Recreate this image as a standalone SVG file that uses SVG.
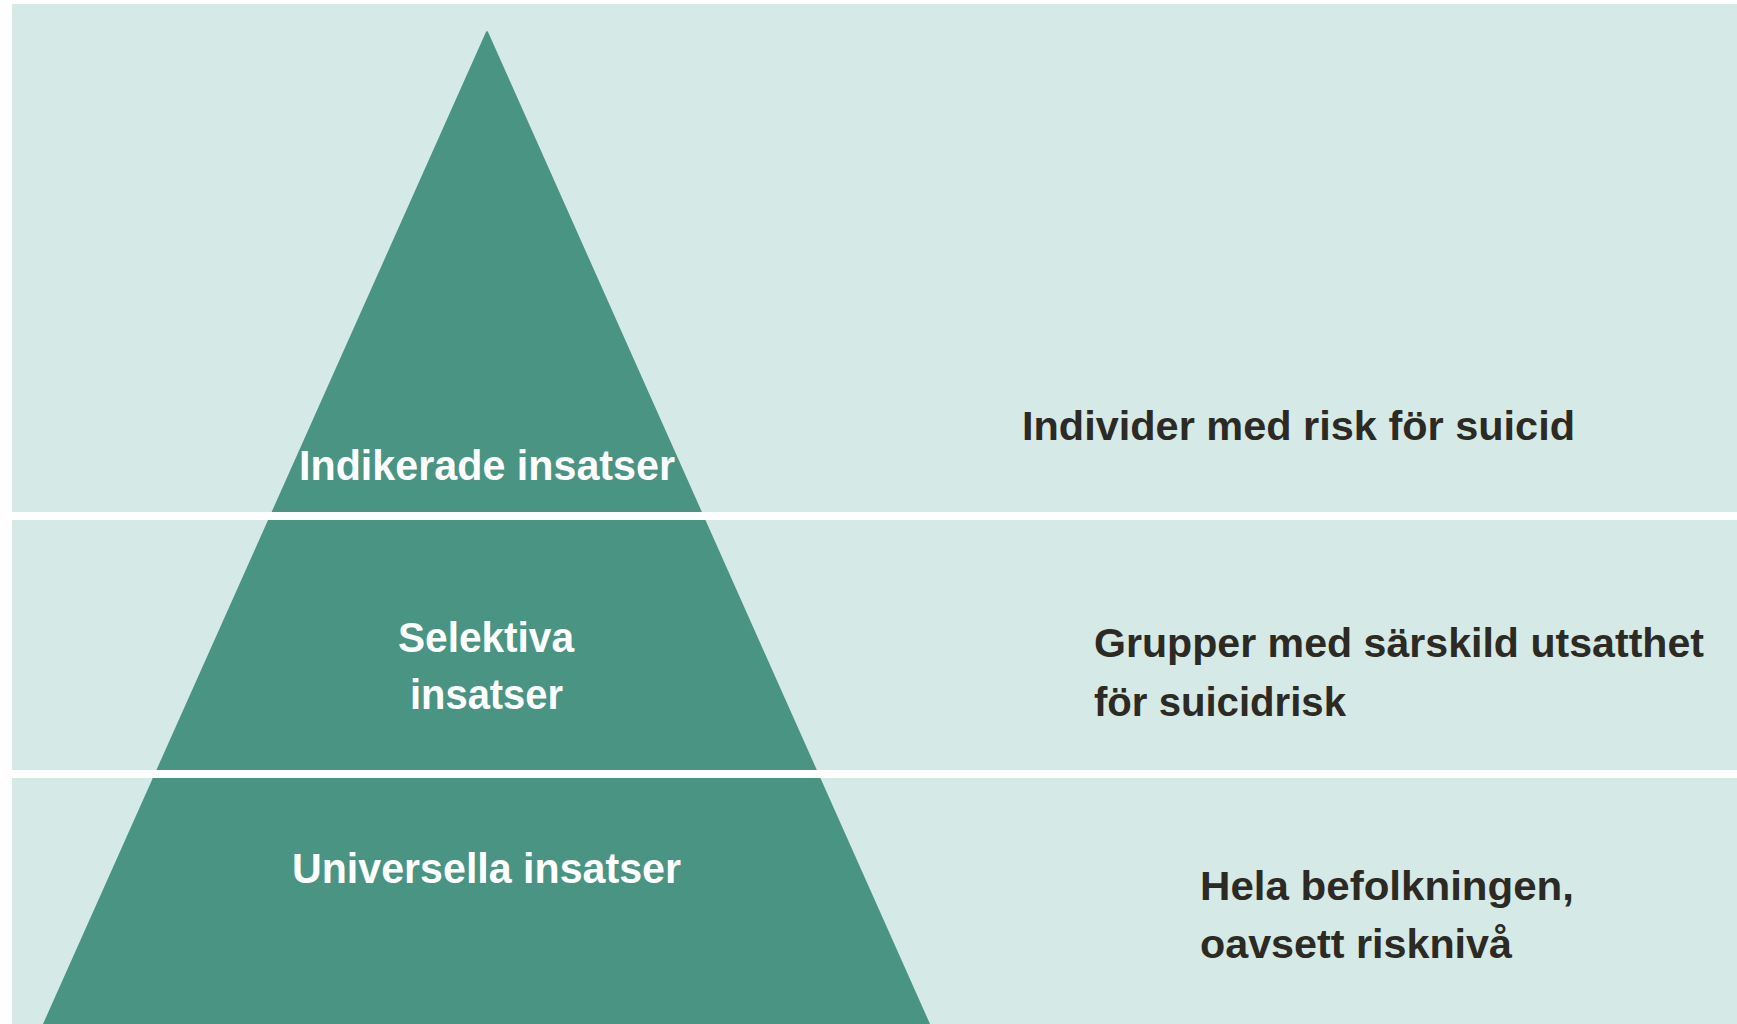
<svg xmlns="http://www.w3.org/2000/svg" width="1737" height="1024" viewBox="0 0 1737 1024">
<style>
.lab{font-family:"Liberation Sans",Arial,sans-serif;font-weight:bold;font-size:43px;fill:#ffffff;text-anchor:middle}
.desc{font-family:"Liberation Sans",Arial,sans-serif;font-weight:bold;font-size:40px;fill:#2c2a23}
.sep{fill:#ffffff}
</style>
<rect x="0" y="0" width="1737" height="1024" fill="#ffffff"/>
<rect x="12" y="4" width="1725" height="1020" fill="#d5e9e6"/>
<g id="pyramid">
<path d="M485.5,33 Q487,29 488.5,33 L930,1024 L43,1024 Z" fill="#4a9484"/>
</g>
<rect class="sep" x="0" y="512" width="1737" height="8"/>
<rect class="sep" x="0" y="770" width="1737" height="8"/>
<g id="tier-indikerade">
<text class="lab" x="487" y="480" textLength="376" lengthAdjust="spacingAndGlyphs">Indikerade insatser</text>
<text class="desc" x="1022" y="440" textLength="553" lengthAdjust="spacingAndGlyphs">Individer med risk för suicid</text>
</g>
<g id="tier-selektiva">
<text class="lab" x="486" y="652" textLength="176" lengthAdjust="spacingAndGlyphs">Selektiva</text>
<text class="lab" x="486.5" y="709" textLength="153" lengthAdjust="spacingAndGlyphs">insatser</text>
<text class="desc" x="1094" y="657" textLength="610" lengthAdjust="spacingAndGlyphs">Grupper med särskild utsatthet</text>
<text class="desc" x="1094" y="716" textLength="252" lengthAdjust="spacingAndGlyphs">för suicidrisk</text>
</g>
<g id="tier-universella">
<text class="lab" x="486.5" y="883" textLength="389" lengthAdjust="spacingAndGlyphs">Universella insatser</text>
<text class="desc" x="1200" y="900" textLength="374" lengthAdjust="spacingAndGlyphs">Hela befolkningen,</text>
<text class="desc" x="1200" y="958" textLength="312" lengthAdjust="spacingAndGlyphs">oavsett risknivå</text>
</g>
</svg>
